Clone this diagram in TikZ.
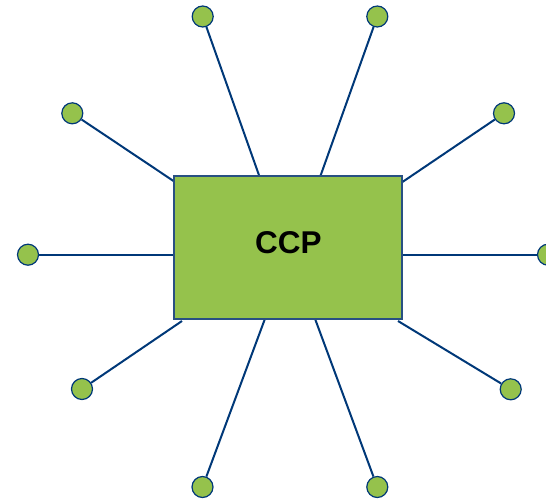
\documentclass[tikz,border=0pt]{standalone}
\usepackage{fontspec}
\setmainfont{Liberation Sans}
\definecolor{linkblue}{RGB}{0,56,120}
\definecolor{boxgreen}{RGB}{149,194,76}
\definecolor{boxedge}{RGB}{40,80,130}
\begin{document}
\begin{tikzpicture}[x=1pt,y=-1pt,
  link/.style={draw=linkblue,line width=2pt},
  endpt/.style={circle,draw=linkblue,line width=1.2pt,fill=boxgreen,minimum size=21pt,inner sep=0pt},
  ccpbox/.style={draw=boxedge,line width=1.2pt,fill=boxgreen,minimum width=228pt,minimum height=143pt,inner sep=0pt},
  ccplabel/.style={inner sep=0pt,font=\fontsize{31.5}{34}\selectfont\bfseries}]
\useasboundingbox (0,0) rectangle (546,498);
% attachment points on the box edges
\coordinate (a1) at (260.7,180);
\coordinate (a2) at (319,180);
\coordinate (a3) at (178,184);
\coordinate (a4) at (398,185);
\coordinate (a5) at (178,254.7);
\coordinate (a6) at (398,254.7);
\coordinate (a7) at (182,321);
\coordinate (a8) at (398,321);
\coordinate (a9) at (266,316);
\coordinate (a10) at (314,316);
% end circles
\node[endpt] (c1) at (202.7,16.5) {};
\node[endpt] (c2) at (377.3,16.5) {};
\node[endpt] (c3) at (72.3,113.3) {};
\node[endpt] (c4) at (504,113.3) {};
\node[endpt] (c5) at (28,254.7) {};
\node[endpt] (c6) at (548,254.7) {};
\node[endpt] (c7) at (82,389) {};
\node[endpt] (c8) at (510.7,389.3) {};
\node[endpt] (c9) at (202.5,487) {};
\node[endpt] (c10) at (377.3,487) {};
% connectors
\foreach \i in {1,...,10} { \draw[link] (c\i) -- (a\i); }
% central box
\node[ccpbox] (ccp) at (288,247.5) {};
\node[ccplabel] (ccptext) at (288.5,242.5) {CCP};
\end{tikzpicture}
\end{document}
